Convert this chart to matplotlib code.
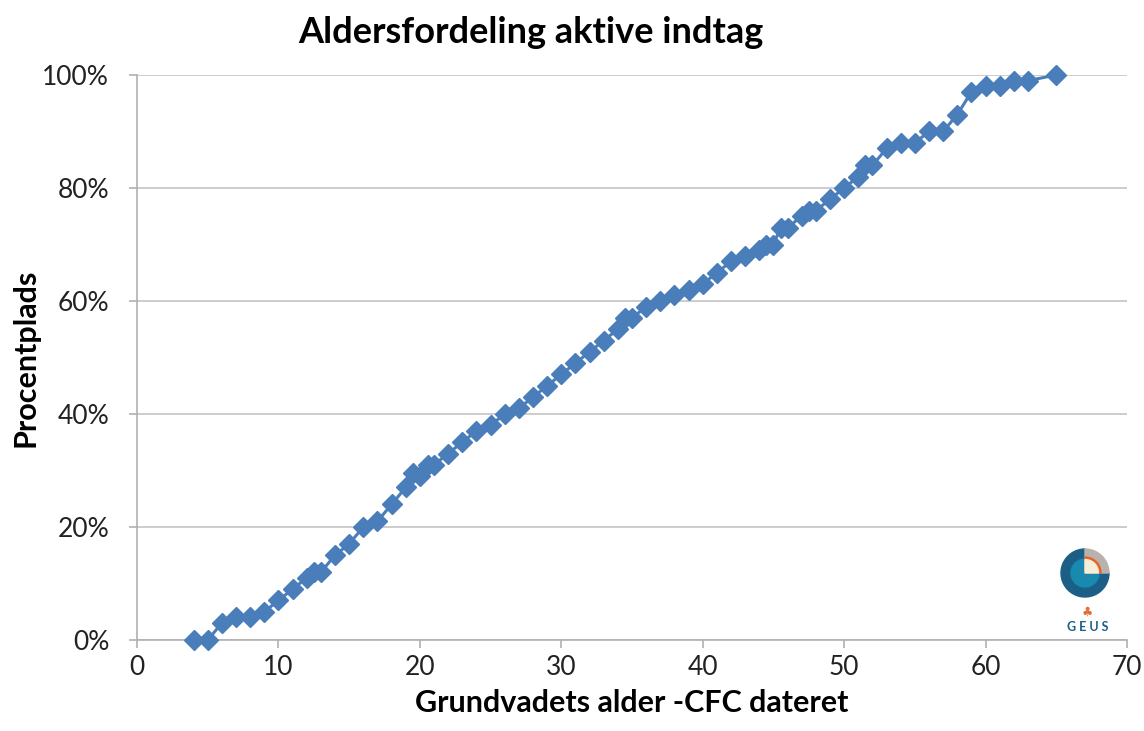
import matplotlib.pyplot as plt
from matplotlib.patches import Wedge, Circle
from matplotlib.ticker import PercentFormatter

# grundvandets alder (aar) og procentplads (%)
alder = [4, 5, 6, 7, 8, 9, 10, 11, 12, 12.5, 13, 14, 15, 16, 17, 18, 19, 19.5, 20, 20.6, 21,
         22, 23, 24, 25, 26, 27, 28, 29, 30, 31, 32, 33, 34, 34.5, 35, 36, 37, 38, 39, 40,
         41, 42, 43, 44, 44.5, 45, 45.5, 46, 47, 47.5, 48, 49, 50, 51, 51.5, 52, 53, 54, 55,
         56, 57, 58, 59, 60, 61, 62, 63, 65]
procent = [0, 0, 3, 4, 4, 5, 7, 9, 11, 12, 12, 15, 17, 20, 21, 24, 27, 29.5, 29, 31, 31,
           33, 35, 37, 38, 40, 41, 43, 45, 47, 49, 51, 53, 55, 57, 57, 59, 60, 61, 62, 63,
           65, 67, 68, 69, 70, 70, 73, 73, 75, 76, 76, 78, 80, 82, 84, 84, 87, 88, 88,
           90, 90, 93, 97, 98, 98, 99, 99, 100]

title = 'Aldersfordeling aktive indtag'
xlabel = 'Grundvadets alder -CFC dateret'
ylabel = 'Procentplads'

plt.rcParams['font.family'] = ['Lato', 'DejaVu Sans']

fig = plt.figure(figsize=(11.44, 7.31), dpi=100)
ax = fig.add_axes([137/1144, 1-640/731, 990/1144, 565/731])

blue = '#4a7ebb'
ax.plot(alder, procent, color=blue, lw=2.2, marker='D', ms=10.5, mec=blue, mfc=blue,
        zorder=3, clip_on=False)

ax.set_xlim(0, 70)
ax.set_ylim(0, 100)
ax.set_xticks(range(0, 71, 10))
ax.set_yticks(range(0, 101, 20))
ax.yaxis.set_major_formatter(PercentFormatter(decimals=0))
ax.grid(axis='y', color='#c8c8c8', lw=1.3)
ax.set_axisbelow(True)
for s in ['top', 'right']:
    ax.spines[s].set_visible(False)
for s in ['left', 'bottom']:
    ax.spines[s].set_color('#b0b0b0')
    ax.spines[s].set_linewidth(1.2)
ax.tick_params(colors='#b0b0b0', labelcolor='#222222', labelsize=19, length=6, width=1.2)
ax.tick_params(axis='x', pad=5)
ax.tick_params(axis='y', pad=14)

ax.set_xlabel(xlabel, fontsize=22, fontweight='bold', labelpad=6)
ax.set_ylabel(ylabel, fontsize=22, fontweight='bold', labelpad=2)
fig.text(0.464, 0.955, title, fontsize=26, fontweight='bold', ha='center', va='center')

# GEUS logo (ca.)
lx = fig.add_axes([1050/1144, 1-640/731, 75/1144, 95/731])
lx.set_xlim(0, 75)
lx.set_ylim(0, 95)
lx.set_aspect('equal')
lx.axis('off')
cx, cy = 35, 67
lx.add_patch(Wedge((cx, cy), 24, 90, 360, color='#1b5f86'))
lx.add_patch(Wedge((cx, cy), 24, 0, 90, color='#b9b1ab'))
lx.add_patch(Circle((cx, cy), 14, color='#1989b0'))
lx.add_patch(Wedge((cx, cy), 16, 0, 90, color='#e8632b'))
lx.add_patch(Wedge((cx, cy), 13.5, 0, 90, color='#f3efd8'))
lx.text(37, 28, '♣', color='#e0703a', fontsize=9, ha='center', va='center', family='DejaVu Sans')
lx.text(38, 13, 'G E U S', color='#1b5f86', fontsize=9, fontweight='bold', ha='center', va='center')

fig.savefig('out.png', dpi=100)
